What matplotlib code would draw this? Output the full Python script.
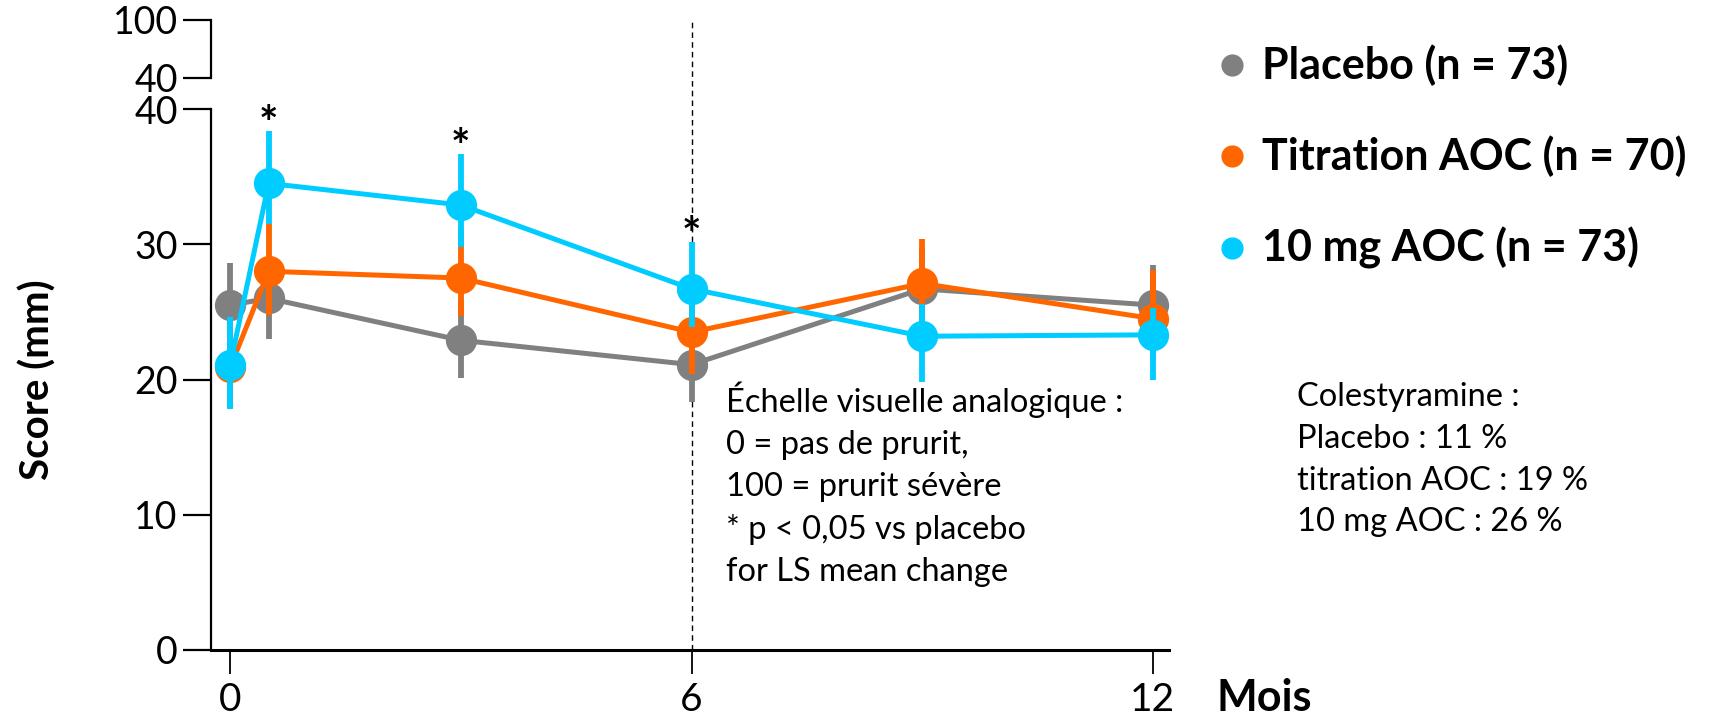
import matplotlib
matplotlib.use("Agg")
import matplotlib.pyplot as plt
from matplotlib.lines import Line2D
from matplotlib.transforms import blended_transform_factory

plt.rcParams['font.family'] = ['Lato', 'DejaVu Sans']

# Time points (months)
months = [0, 0.5, 3, 6, 9, 12]

# Mean pruritus score (mm) per group
placebo = [25.5, 26.0, 22.9, 21.1, 26.7, 25.5]
titration = [20.9, 28.0, 27.5, 23.5, 27.1, 24.5]
aoc10 = [21.1, 34.5, 32.9, 26.7, 23.2, 23.3]

# Error bar extents (lower, upper)
placebo_lo = [3.0, 3.0, 2.8, 2.8, 3.0, 3.0]
placebo_hi = [3.1, 3.0, 3.0, 3.0, 3.0, 3.0]
titration_lo = [3.0, 3.2, 2.8, 3.1, 2.7, 3.0]
titration_hi = [3.0, 3.5, 3.6, 3.2, 3.3, 3.6]
aoc10_lo = [3.3, 3.0, 3.1, 2.8, 3.4, 3.3]
aoc10_hi = [3.5, 3.9, 3.8, 3.5, 2.4, 2.0]

# Time points with significant difference vs placebo
signif_idx = [1, 2, 3]

labels = ["Placebo (n = 73)", "Titration AOC (n = 70)", "10 mg AOC (n = 73)"]
colors = ["#808080", "#FF6600", "#00CCFF"]

x_ticks = [0, 6, 12]
y_ticks = [0, 10, 20, 30, 40]
top_ticks = [40, 100]

W, H = 1709, 720
fig = plt.figure(figsize=(W / 100, H / 100), dpi=100)

left, right = 211 / W, 1169 / W
bottom, top = 1 - 650 / H, 1 - 109 / H
ax = fig.add_axes([left, bottom, right - left, top - bottom])
ax.set_xlim(-0.25, 12.21)
ax.set_ylim(0, 40)

series = [
    (placebo, placebo_lo, placebo_hi),
    (titration, titration_lo, titration_hi),
    (aoc10, aoc10_lo, aoc10_hi),
]
for i, ((vals, lo, hi), col) in enumerate(zip(series, colors)):
    z = 3 + i
    ax.errorbar(months, vals, yerr=[lo, hi], fmt='none', ecolor=col,
                elinewidth=4.2, capsize=0, zorder=z, clip_on=False)
    ax.plot(months, vals, '-', color=col, lw=3.6, zorder=z + 0.1,
            clip_on=False, solid_capstyle='butt')
    ax.plot(months, vals, 'o', color=col, ms=22.5, mec=col, mew=0,
            zorder=z + 0.2, clip_on=False)

# Significance markers above the 10 mg AOC error bars
for k in signif_idx:
    ax.annotate("*", (months[k], aoc10[k] + aoc10_hi[k]), xytext=(0, -12),
                textcoords='offset points', ha='center', va='bottom',
                fontsize=33, fontweight='bold', zorder=8, annotation_clip=False)

# Vertical dashed reference at 6 months
tr = blended_transform_factory(ax.transData, fig.transFigure)
ax.plot([6, 6], [bottom, 1 - 20 / H], transform=tr, color='black', lw=1.0,
        ls=(0, (4, 3)), zorder=1, clip_on=False)

# Axis styling
for s in ['top', 'right']:
    ax.spines[s].set_visible(False)
ax.spines['left'].set_linewidth(1.6)
ax.spines['bottom'].set_linewidth(2.2)
ax.spines['bottom'].set_zorder(9)
ax.set_xticks(x_ticks)
ax.set_yticks(y_ticks)
ax.tick_params(axis='x', length=17, width=1.3, labelsize=28, pad=6)
ax.tick_params(axis='y', length=20, width=1.6, labelsize=27, pad=4)
ax.set_ylabel("Score (mm)", fontsize=29, fontweight='bold')
ax.yaxis.set_label_coords(-(211 - 38) / (W * (right - left)), 0.5)
ax.yaxis.label.set_va('center')
fig.text(1264 / W, 1 - 698 / H, "Mois", fontsize=31, fontweight='bold',
         ha='center', va='center')

# Upper broken-axis segment
ax2 = fig.add_axes([left, 1 - 78 / H, 0.0001, (78 - 20) / H])
ax2.set_ylim(40, 100)
ax2.set_yticks(top_ticks)
ax2.set_xticks([])
for s in ['top', 'right', 'bottom']:
    ax2.spines[s].set_visible(False)
ax2.spines['left'].set_linewidth(1.6)
ax2.tick_params(axis='y', length=20, width=1.6, labelsize=27, pad=4)
ax2.patch.set_visible(False)

# Explanatory notes
note = ("Échelle visuelle analogique :\n0 = pas de prurit,\n100 = prurit sévère\n"
        "* p < 0,05 vs placebo\nfor LS mean change")
fig.text(726 / W, 1 - 382 / H, note, fontsize=23.5, ha='left', va='top',
         linespacing=1.49)
chol = "Colestyramine :\nPlacebo : 11 %\ntitration AOC : 19 %\n10 mg AOC : 26 %"
fig.text(1297 / W, 1 - 382 / H, chol, fontsize=23.5, ha='left', va='top',
         linespacing=1.49)

# Legend entries
leg_y = [65, 156, 248]
for lab, col, yy in zip(labels, colors, leg_y):
    fig.add_artist(Line2D([1232 / W], [1 - yy / H], marker='o', color=col,
                          ms=16, mew=0, transform=fig.transFigure))
    fig.text(1262 / W, 1 - yy / H, lab, fontsize=31, fontweight='bold',
             ha='left', va='center')

fig.savefig("out.png", dpi=100, facecolor='white')
